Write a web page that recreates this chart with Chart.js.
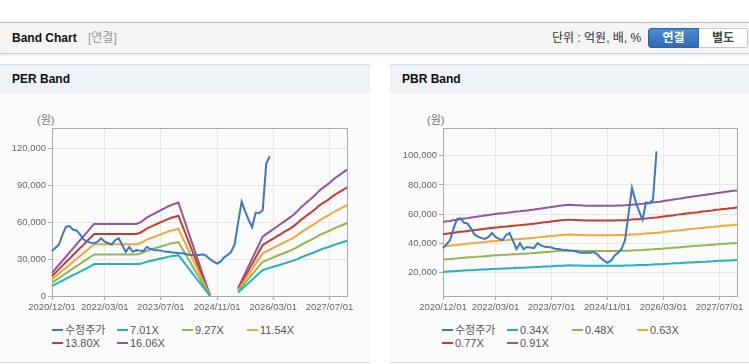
<!DOCTYPE html>
<html lang="ko">
<head>
<meta charset="utf-8">
<title>Band Chart</title>
<script src="https://cdn.jsdelivr.net/npm/chart.js@4.4.1/dist/chart.umd.min.js"></script>
<style>
  body { margin: 0; width: 749px; height: 364px; position: relative; overflow: hidden; background: #fff;
    font-family: "Liberation Sans", "Noto Sans CJK KR", sans-serif; color: #333; }
  .top { position: absolute; left: 0; top: 22px; width: 749px; height: 30px; background: #f4f4f4;
    border-top: 1px solid #bcbcbc; border-bottom: 1px solid #cdcdcd; box-shadow: 0 2px 2px rgba(0,0,0,.07); }
  .top .title { position: absolute; left: 12px; top: 0; line-height: 30px; font-size: 12px; font-weight: bold; color: #111; }
  .top .sub { position: absolute; left: 88px; top: 0; line-height: 30px; font-size: 12px; color: #999; }
  .top .unit { position: absolute; left: 552px; top: 0; line-height: 31px; font-size: 12px; color: #333; }
  .btn { position: absolute; top: 5px; height: 19px; line-height: 19px; text-align: center; font-size: 12px; font-weight: bold; }
  .btn.on { left: 648px; width: 51px; color: #fff; border-radius: 3px 0 0 3px;
    background: linear-gradient(#4b8bd0, #2d6cb3); border: 1px solid #2a64a6; box-sizing: border-box; height: 20px; }
  .btn.off { left: 699px; width: 49px; color: #444; background: #fff; border: 1px solid #c8c8c8; border-left: 0;
    border-radius: 0 3px 3px 0; box-sizing: border-box; height: 20px; }
  .panel { position: absolute; top: 64px; height: 297px; background: #fbfbfb;
    border-top: 1px solid #dadada; border-bottom: 1px solid #dadada; }
  .panel .head { height: 28px; line-height: 28px; background: #eef1f6; padding-left: 12px;
    font-size: 12px; font-weight: bold; color: #111; }
  .won { position: absolute; top: 111px; font-size: 11px; color: #777; }
  canvas { position: absolute; top: 120px; }
  .legend { position: absolute; top: 324px; display: grid; grid-template-columns: repeat(4, 65px);
    font-size: 11px; line-height: 13.3px; color: #555; white-space: nowrap; }
  .legend i { display: inline-block; width: 11px; height: 2px; vertical-align: middle; margin-right: 2px;
    position: relative; top: -1px; }
</style>
</head>
<body>
<div class="top">
  <span class="title">Band Chart</span>
  <span class="sub">[연결]</span>
  <span class="unit">단위 : 억원, 배, %</span>
  <span class="btn on">연결</span>
  <span class="btn off">별도</span>
</div>

<div class="panel" style="left:0; width:370px;"><div class="head">PER Band</div></div>
<div class="panel" style="left:390px; width:359px;"><div class="head">PBR Band</div></div>

<div class="won" style="left:37px;">(원)</div>
<div class="won" style="left:427px;">(원)</div>

<canvas id="per" width="360" height="200" style="left:0;"></canvas>
<canvas id="pbr" width="360" height="200" style="left:390px;"></canvas>

<div class="legend" id="perLegend" style="left:52px;"></div>
<div class="legend" id="pbrLegend" style="left:442px;"></div>

<script>
// shown x tick labels (the axis is monthly, 2020/12 .. 2027/12)
const tickLabels = ['2020/12/01', '2022/03/01', '2023/07/01', '2024/11/01', '2026/03/01', '2027/07/01'];
const months = [];
for (let y = 2020, m = 12; months.length < 85; m++) {
  if (m > 12) { m = 1; y++; }
  months.push(`${y}/${String(m).padStart(2, '0')}/01`);
}

const perTicks = [0, 30000, 60000, 90000, 120000];
const pbrTicks = [20000, 40000, 60000, 80000, 100000];

const perNames = ['수정주가', '7.01X', '9.27X', '11.54X', '13.80X', '16.06X'];
const pbrNames = ['수정주가', '0.34X', '0.48X', '0.63X', '0.77X', '0.91X'];

const perPrice = [
  36600, 39300, 42000, 50000, 56500, 57000, 54000, 53500, 50000, 46000,
  44500, 43500, 43000, 44300, 47000, 44300, 43000, 42000, 45500, 47000,
  41600, 36000, 40000, 36000, 37400, 37000, 36600, 40000, 38500, 37500,
  37400, 37000, 36200, 36000, 35600, 35300, 35000, 34800, 34300, 33600,
  33400, 33400, 33400, 34000, 32500, 30000, 28000, 26500, 28000, 31500,
  33400, 36000, 42000, 60000, 77000, 69000, 62000, 56000, 68000, 67500,
  70000, 108000, 114000
];

const pbrPrice = [
  36600, 39300, 42000, 50000, 56500, 57000, 54000, 53500, 50000, 46000,
  44500, 43500, 43000, 44300, 47000, 44300, 43000, 42000, 45500, 47000,
  41600, 36000, 40000, 36000, 37400, 37000, 36600, 40000, 38500, 37500,
  37400, 37000, 36200, 36000, 35600, 35300, 35000, 34800, 34300, 33600,
  33400, 33400, 33400, 34000, 32500, 30000, 28000, 26500, 28000, 31500,
  33400, 36000, 42000, 60000, 78000, 69000, 62000, 56000, 68000, 67500,
  70000, 103000
];

const perCyan = [
  8300, 9700, 11100, 12600, 14100, 15500, 17000, 18400, 19900, 21300, 22700, 24300, 26000,
  26000, 26000, 26000, 26000, 26000, 26000, 26000, 26000, 26000, 26000, 26000, 26000,
  26100, 27000, 27900, 28600, 29200, 29900, 30600, 31200, 31900, 32400, 32800, 33300,
  29600, 25900, 22200, 18500, 14800, 11100, 7400, 3700, 200,
  null, null, null, null, null, null, null,
  2800, 5500, 8100, 10700, 13300, 15900, 18600, 21100,
  22000, 22900, 23800, 24700, 25500, 26400, 27300, 28200, 29200, 30300, 31600, 32700,
  33800, 34900, 36000, 37300, 38400, 39300, 40200, 41400, 42300, 43200, 44100, 45000
];
const perGreen = [
  10900, 12800, 14700, 16700, 18600, 20500, 22500, 24400, 26300, 28200, 30100, 32000, 33900,
  33900, 33900, 33900, 33900, 33900, 33900, 33900, 33900, 33900, 33900, 33900, 33900,
  34500, 35700, 36900, 37800, 38700, 39500, 40400, 41300, 42100, 42900, 43400, 44000,
  39100, 34200, 29300, 24400, 19600, 14700, 9800, 4900, 300,
  null, null, null, null, null, null, null,
  3800, 7200, 10700, 14100, 17600, 21100, 24500, 27900,
  29100, 30300, 31500, 32600, 33800, 34900, 36100, 37200, 38600, 40100, 41800, 43300,
  44700, 46200, 47600, 49400, 50800, 51900, 53200, 54700, 56000, 57100, 58300, 59500
];
const perOrange = [
  13600, 16000, 18300, 20800, 23100, 25500, 28000, 30300, 32700, 35100, 37400, 39900, 42300,
  42300, 42300, 42300, 42300, 42300, 42300, 42300, 42300, 42300, 42300, 42300, 42300,
  43000, 44400, 46000, 47100, 48100, 49200, 50300, 51400, 52500, 53400, 54000, 54800,
  48600, 42600, 36500, 30400, 24400, 18300, 12100, 6100, 400,
  null, null, null, null, null, null, null,
  4700, 9000, 13300, 17600, 21900, 26200, 30500, 34800,
  36300, 37700, 39200, 40600, 42000, 43500, 44900, 46400, 48000, 49900, 52100, 53900,
  55700, 57500, 59300, 61400, 63200, 64700, 66300, 68100, 69700, 71100, 72600, 74000
];
const perRed = [
  16200, 19100, 21900, 24800, 27700, 30500, 33400, 36300, 39100, 41900, 44800, 47700, 50500,
  50500, 50500, 50500, 50500, 50500, 50500, 50500, 50500, 50500, 50500, 50500, 50500,
  51400, 53100, 55000, 56300, 57600, 58900, 60200, 61400, 62700, 63800, 64600, 65500,
  58200, 51000, 43700, 36300, 29100, 21800, 14500, 7300, 400,
  null, null, null, null, null, null, null,
  5600, 10700, 15900, 21100, 26200, 31400, 36500, 41600,
  43400, 45100, 46800, 48600, 50300, 52000, 53700, 55400, 57400, 59700, 62300, 64400,
  66600, 68700, 70900, 73500, 75600, 77300, 79200, 81500, 83400, 85100, 86800, 88500
];
const perPurple = [
  18900, 22200, 25500, 28900, 32200, 35500, 38900, 42200, 45500, 48800, 52100, 55500, 58800,
  58800, 58800, 58800, 58800, 58800, 58800, 58800, 58800, 58800, 58800, 58800, 58800,
  59800, 61800, 64000, 65500, 67000, 68500, 70000, 71500, 73000, 74300, 75200, 76200,
  67700, 59300, 50800, 42300, 33900, 25400, 16900, 8500, 500,
  null, null, null, null, null, null, null,
  6500, 12500, 18500, 24500, 30500, 36500, 42500, 48400,
  50500, 52500, 54500, 56500, 58500, 60500, 62500, 64500, 66800, 69500, 72500, 75000,
  77500, 80000, 82500, 85500, 88000, 90000, 92200, 94800, 97000, 99000, 101000, 103000
];

const pbrCyan = [
  20400, 20500, 20700, 20800, 21000, 21100, 21300, 21400, 21500, 21600,
  21800, 21900, 22000, 22200, 22300, 22400, 22500, 22600, 22700, 22800,
  22900, 23100, 23100, 23200, 23300, 23500, 23600, 23700, 23800, 24000,
  24100, 24200, 24400, 24500, 24600, 24700, 24800, 24700, 24700, 24700,
  24600, 24500, 24500, 24500, 24500, 24500, 24500, 24500, 24500, 24500,
  24600, 24600, 24700, 24700, 24800, 24900, 25000, 25000, 25100, 25300,
  25400, 25500, 25600, 25700, 25900, 26000, 26200, 26300, 26400, 26600,
  26700, 26800, 27000, 27100, 27200, 27300, 27500, 27600, 27800, 27900,
  28000, 28100, 28200, 28400, 28500
];
const pbrGreen = [
  28800, 29000, 29200, 29400, 29600, 29800, 30000, 30200, 30400, 30500,
  30800, 30900, 31100, 31300, 31500, 31700, 31800, 32000, 32100, 32200,
  32400, 32500, 32700, 32800, 33000, 33100, 33300, 33500, 33700, 33900,
  34000, 34200, 34400, 34600, 34800, 34900, 35000, 34900, 34900, 34800,
  34700, 34700, 34700, 34700, 34700, 34700, 34700, 34700, 34700, 34700,
  34700, 34800, 34800, 34900, 35000, 35100, 35200, 35300, 35500, 35700,
  35800, 36000, 36100, 36300, 36600, 36700, 36900, 37100, 37300, 37500,
  37700, 37900, 38100, 38200, 38500, 38600, 38800, 39000, 39200, 39400,
  39600, 39700, 39900, 40000, 40200
];
const pbrOrange = [
  37800, 38100, 38300, 38600, 38800, 39100, 39400, 39600, 39900, 40100,
  40400, 40600, 40800, 41100, 41300, 41500, 41700, 42000, 42100, 42300,
  42500, 42700, 42900, 43100, 43300, 43500, 43700, 44000, 44200, 44400,
  44700, 44900, 45100, 45400, 45600, 45800, 45900, 45800, 45800, 45700,
  45600, 45500, 45500, 45500, 45500, 45500, 45500, 45500, 45500, 45500,
  45600, 45600, 45700, 45800, 46000, 46100, 46200, 46400, 46600, 46800,
  47000, 47200, 47400, 47700, 48000, 48200, 48500, 48700, 48900, 49200,
  49500, 49700, 50000, 50200, 50500, 50700, 51000, 51200, 51400, 51600,
  51900, 52100, 52300, 52500, 52800
];
const pbrRed = [
  46200, 46500, 46800, 47100, 47500, 47800, 48100, 48400, 48700, 49000,
  49300, 49600, 49900, 50200, 50500, 50800, 51000, 51300, 51400, 51700,
  52000, 52200, 52400, 52600, 52900, 53100, 53400, 53700, 54000, 54300,
  54600, 54900, 55200, 55500, 55800, 56000, 56100, 56000, 55900, 55800,
  55700, 55600, 55600, 55600, 55600, 55600, 55600, 55600, 55600, 55600,
  55700, 55800, 55800, 56000, 56200, 56400, 56500, 56700, 56900, 57200,
  57500, 57700, 58000, 58300, 58600, 58900, 59200, 59600, 59800, 60200,
  60500, 60800, 61100, 61300, 61700, 61900, 62300, 62500, 62900, 63100,
  63500, 63700, 64000, 64200, 64500
];
const pbrPurple = [
  54600, 55000, 55300, 55700, 56100, 56500, 56900, 57200, 57600, 57900,
  58300, 58600, 59000, 59300, 59700, 60000, 60300, 60600, 60800, 61100,
  61400, 61700, 61900, 62200, 62500, 62800, 63100, 63500, 63800, 64200,
  64500, 64900, 65200, 65600, 65900, 66200, 66300, 66200, 66100, 66000,
  65800, 65700, 65700, 65700, 65700, 65700, 65700, 65700, 65700, 65700,
  65800, 65900, 66000, 66200, 66400, 66600, 66800, 67000, 67300, 67600,
  67900, 68200, 68500, 68900, 69300, 69600, 70000, 70400, 70700, 71100,
  71500, 71800, 72200, 72500, 72900, 73200, 73600, 73900, 74300, 74600,
  75000, 75300, 75600, 75900, 76200
];

const COLORS = ['#3a78c8', '#22b2c5', '#8fb94f', '#f3a738', '#c93a30', '#93559f'];
const FONT = 'Liberation Sans';

// gray box round the plot area
const frame = {
  id: 'frame',
  beforeDatasetsDraw(chart) {
    const { ctx, chartArea: a } = chart;
    ctx.save();
    ctx.strokeStyle = '#aaaaaa';
    ctx.lineWidth = 1;
    ctx.strokeRect(Math.round(a.left) + 0.5, Math.round(a.top) + 0.5,
      Math.round(a.right - a.left), Math.round(a.bottom - a.top));
    ctx.restore();
  },
};

function makeChart(id, series, names, yMin, yMax, yTicks, axisWidth) {
  return new Chart(document.getElementById(id), {
    type: 'line',
    data: {
      labels: months,
      datasets: series.map((data, i) => ({
        label: names[i], data, borderColor: COLORS[i], backgroundColor: COLORS[i],
        borderWidth: 2, pointRadius: 0, tension: 0, spanGaps: false,
      })),
    },
    options: {
      responsive: false,
      animation: false,
      layout: { padding: { top: 8, right: 13, left: 0, bottom: 0 } },
      plugins: { legend: { display: false }, tooltip: { enabled: false } },
      scales: {
        x: {
          grid: { color: '#e7e7e7', tickLength: 4, tickColor: '#aaaaaa' },
          border: { display: false },
          ticks: {
            autoSkip: false, maxRotation: 0, minRotation: 0, padding: 2, color: '#666',
            font: { family: FONT, size: 9.5 },
            callback(v) {
              const l = this.getLabelForValue(v);
              return tickLabels.includes(l) ? l : null;
            },
          },
          afterFit: s => { s.height = 24; },
        },
        y: {
          min: yMin, max: yMax,
          grid: { color: '#e7e7e7', tickLength: 4, tickColor: '#aaaaaa' },
          border: { display: false },
          ticks: {
            padding: 2, color: '#666',
            font: { family: FONT, size: 9.5 },
            callback: v => v.toLocaleString('en-US'),
          },
          afterBuildTicks: s => { s.ticks = yTicks.map(value => ({ value })); },
          afterFit: s => { s.width = axisWidth; },
        },
      },
    },
    plugins: [frame],
  });
}

function buildLegend(chart, id) {
  const el = document.getElementById(id);
  chart.data.datasets.forEach(ds => {
    const item = document.createElement('span');
    const sw = document.createElement('i');
    sw.style.background = ds.borderColor;
    item.append(sw, ds.label);
    el.appendChild(item);
  });
}

const perChart = makeChart('per', [perPrice, perCyan, perGreen, perOrange, perRed, perPurple],
  perNames, 0, 137000, perTicks, 52);
const pbrChart = makeChart('pbr', [pbrPrice, pbrCyan, pbrGreen, pbrOrange, pbrRed, pbrPurple],
  pbrNames, 3800, 119000, pbrTicks, 53);

buildLegend(perChart, 'perLegend');
buildLegend(pbrChart, 'pbrLegend');
</script>
</body>
</html>
